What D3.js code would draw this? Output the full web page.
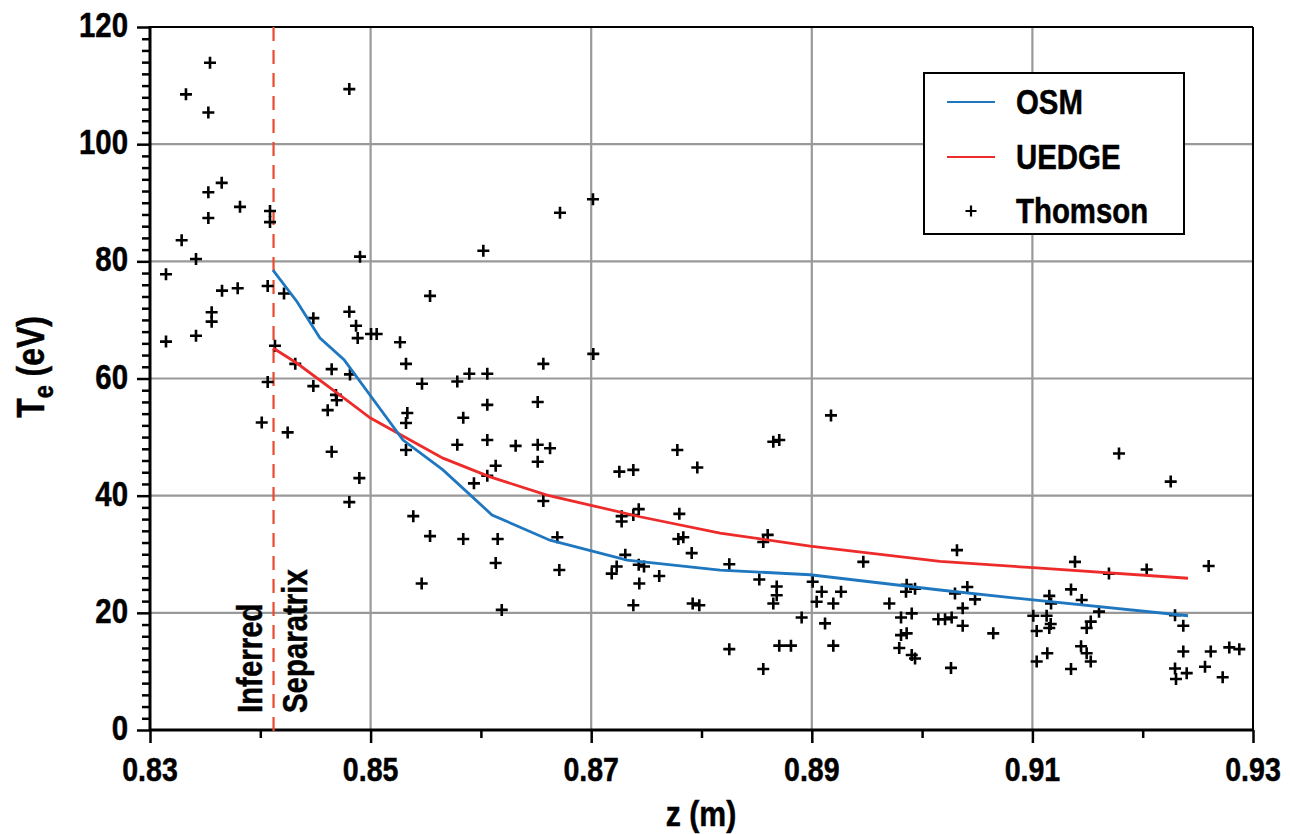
<!DOCTYPE html>
<html>
<head>
<meta charset="utf-8">
<script src="https://cdn.jsdelivr.net/npm/d3@7"></script>
<style>
  html, body { margin: 0; padding: 0; background: #fff; }
  svg text { font-family: "Liberation Sans", Arial, Helvetica, sans-serif; font-weight: bold; fill: #000; stroke: #000; stroke-width: 0.5px; }
</style>
</head>
<body>
<svg id="chart" width="1290" height="834"></svg>
<script>
// ---------------- data ----------------
const xMajorTicks = [0.83, 0.85, 0.87, 0.89, 0.91, 0.93];
const xMinorTicks = [0.84, 0.86, 0.88, 0.90, 0.92];
const yMajorTicks = [0, 20, 40, 60, 80, 100, 120];
const xTickLabels = ["0.83", "0.85", "0.87", "0.89", "0.91", "0.93"];
const yTickLabels = ["0", "20", "40", "60", "80", "100", "120"];
const separatrixZ = 0.8412;

const osmZ = [0.84115, 0.84333, 0.84541, 0.84759, 0.85294, 0.85656, 0.86101, 0.86626, 0.87325, 0.88168, 0.88984, 0.90162, 0.91006, 0.92411];
const osmT = [78.5, 73.1, 66.9, 63.2, 49.5, 44.4, 36.7, 32.4, 29.0, 27.3, 26.5, 23.9, 22.2, 19.5];

const uedgeZ = [0.84115, 0.84333, 0.84783, 0.84995, 0.85656, 0.86083, 0.86599, 0.86989, 0.87442, 0.88168, 0.88984, 0.90162, 0.91006, 0.92411];
const uedgeT = [65.2, 62.6, 56.3, 53.3, 46.4, 43.2, 40.1, 38.4, 36.4, 33.6, 31.4, 28.8, 27.7, 25.9];

const thomsonZ = [
  0.83544, 0.83326, 0.83529, 0.84807, 0.83650, 0.83529, 0.83816, 0.84088, 0.84088, 0.83529,
  0.83287, 0.83417, 0.84904, 0.83145, 0.83653, 0.83795, 0.84067, 0.84215, 0.83559, 0.83559,
  0.84481, 0.84807, 0.84868, 0.84883, 0.85004, 0.85055, 0.83145, 0.83417, 0.84133, 0.84317,
  0.84647, 0.84813, 0.84067, 0.84481, 0.84686, 0.84693, 0.84611, 0.84013, 0.84248, 0.84647,
  0.84898, 0.84807, 0.86022, 0.85539, 0.85267, 0.85321, 0.85466, 0.85786, 0.85895, 0.86058,
  0.86566, 0.87019, 0.86058, 0.86515, 0.85333, 0.85321, 0.85840, 0.86058, 0.85786, 0.86315,
  0.86515, 0.86627, 0.85321, 0.86515, 0.86134, 0.86058, 0.85937, 0.87255, 0.87382, 0.86566,
  0.85387, 0.87431, 0.87276, 0.87276, 0.87382, 0.85539, 0.85840, 0.86152, 0.86693, 0.86134,
  0.86711, 0.87309, 0.87231, 0.87186, 0.87431, 0.87479, 0.87436, 0.85463, 0.87382, 0.86189,
  0.89174, 0.88651, 0.88705, 0.87781, 0.87962, 0.87799, 0.87790, 0.87835, 0.87911, 0.88600,
  0.88560, 0.88252, 0.89467, 0.87617, 0.88524, 0.88682, 0.88682, 0.88651, 0.89008, 0.89090,
  0.89265, 0.89044, 0.89195, 0.87920, 0.87980, 0.89703, 0.89860, 0.89854, 0.89936, 0.88908,
  0.89120, 0.89809, 0.89906, 0.90147, 0.88705, 0.88811, 0.89195, 0.88252, 0.89809, 0.89860,
  0.89793, 0.89906, 0.89936, 0.88560, 0.91785, 0.92254, 0.90316, 0.91386, 0.91694, 0.92036,
  0.92598, 0.90298, 0.90410, 0.90480, 0.90368, 0.90208, 0.90268, 0.90368, 0.90645, 0.90262,
  0.91153, 0.91169, 0.91350, 0.91447, 0.91604, 0.91008, 0.91129, 0.91166, 0.91153, 0.91039,
  0.91529, 0.91492, 0.91441, 0.91492, 0.91529, 0.91135, 0.91039, 0.91350, 0.92293, 0.92368,
  0.92368, 0.92617, 0.92785, 0.92876, 0.92293, 0.92302, 0.92399, 0.92565, 0.92725, 0.86717,
  0.87016
];
const thomsonT = [
  113.9, 108.5, 105.4, 109.4, 93.4, 91.8, 89.3, 88.6, 86.7, 87.4,
  83.6, 80.4, 80.8, 77.8, 75.0, 75.4, 75.8, 74.5, 71.3, 69.7,
  70.3, 71.4, 69.0, 66.9, 67.6, 67.6, 66.3, 67.3, 65.6, 62.5,
  61.6, 60.7, 59.4, 58.7, 57.2, 56.3, 54.6, 52.5, 50.8, 47.5,
  43.0, 38.9, 81.8, 74.1, 66.2, 62.5, 59.1, 59.5, 60.8, 60.8,
  62.5, 64.2, 55.5, 56.0, 54.1, 52.4, 53.3, 49.5, 48.7, 48.5,
  48.7, 48.1, 47.8, 45.8, 45.1, 43.4, 42.1, 44.1, 44.4, 39.1,
  36.5, 37.7, 36.5, 35.6, 36.7, 33.1, 32.6, 32.6, 32.9, 28.5,
  27.3, 29.9, 27.9, 26.7, 28.2, 27.9, 25.0, 25.0, 21.3, 20.5,
  53.7, 49.2, 49.5, 47.8, 44.8, 36.9, 32.6, 32.9, 30.2, 33.3,
  32.1, 28.3, 28.7, 26.3, 25.7, 24.5, 23.0, 21.6, 25.3, 23.6,
  23.6, 21.9, 21.6, 21.6, 21.3, 21.6, 24.8, 23.6, 24.1, 19.2,
  18.2, 19.2, 19.9, 18.9, 14.4, 14.4, 14.4, 13.8, 16.2, 16.5,
  14.0, 12.8, 12.2, 10.4, 47.2, 42.4, 30.7, 28.7, 26.7, 27.4,
  28.0, 23.3, 24.4, 22.3, 20.8, 18.9, 19.2, 17.8, 16.5, 10.6,
  22.9, 21.6, 24.0, 22.2, 20.2, 19.5, 19.5, 18.1, 17.4, 16.9,
  18.5, 17.4, 14.3, 13.1, 11.7, 13.1, 11.7, 10.4, 19.6, 17.8,
  13.4, 13.4, 14.1, 13.8, 10.5, 8.7, 9.7, 10.8, 9.0, 88.3,
  90.6
];

const legendLabels = ["OSM", "UEDGE", "Thomson"];
const colors = { osm: "#1f77c0", uedge: "#ee2b2b", sep: "#ea4a2e" };

// ---------------- layout ----------------
const SX = 0.84; // horizontal squeeze to imitate a condensed bold face
const svg = d3.select("#chart");
const L = 150, R = 1253, T = 27, B = 730;
const x = d3.scaleLinear().domain([0.83, 0.93]).range([L, R]);
const y = d3.scaleLinear().domain([0, 120]).range([B, T]);

function ctext(parent, px, py, str, size, anchor, rot) {
  const t = parent.append("text")
    .attr("transform", `translate(${px},${py})${rot ? ` rotate(${rot})` : ""} scale(${SX},1)`)
    .attr("font-size", size).attr("text-anchor", anchor || "start");
  if (str !== null) t.text(str);
  return t;
}

// grid
const grid = svg.append("g");
grid.selectAll(".vg").data(xMajorTicks.slice(1, -1)).join("line")
  .attr("x1", d => x(d)).attr("x2", d => x(d)).attr("y1", T).attr("y2", B)
  .attr("stroke", "#999").attr("stroke-width", 2.2);
grid.selectAll(".hg").data(yMajorTicks.slice(1, -1)).join("line")
  .attr("x1", L).attr("x2", R).attr("y1", d => y(d)).attr("y2", d => y(d))
  .attr("stroke", "#999").attr("stroke-width", 2.2);

// frame top/right
svg.append("line").attr("x1", L).attr("x2", R).attr("y1", T).attr("y2", T).attr("stroke", "#000").attr("stroke-width", 2);
svg.append("line").attr("x1", R).attr("x2", R).attr("y1", T).attr("y2", B).attr("stroke", "#000").attr("stroke-width", 2);

// axes (ticks via d3 axes; labels drawn condensed)
const xAxisMajor = d3.axisBottom(x).tickValues(xMajorTicks).tickFormat("").tickSize(13);
const xAxisMinor = d3.axisBottom(x).tickValues(xMinorTicks).tickFormat("").tickSize(8);
const yMinorTicks = d3.range(0, 121, 2).filter(v => v % 20 !== 0);
const yAxisMajor = d3.axisLeft(y).tickValues(yMajorTicks).tickFormat("").tickSize(13);
const yAxisMinor = d3.axisLeft(y).tickValues(yMinorTicks).tickFormat("").tickSize(8);

function styleAxis(g) {
  g.select(".domain").remove();
  g.selectAll(".tick line").attr("stroke", "#000").attr("stroke-width", 2.5);
  g.selectAll(".tick text").remove();
}
svg.append("g").attr("transform", `translate(0,${B})`).call(xAxisMinor).call(styleAxis);
svg.append("g").attr("transform", `translate(0,${B})`).call(xAxisMajor).call(styleAxis);
svg.append("g").attr("transform", `translate(${L},0)`).call(yAxisMinor).call(styleAxis);
svg.append("g").attr("transform", `translate(${L},0)`).call(yAxisMajor).call(styleAxis);

const labels = svg.append("g");
xMajorTicks.forEach((v, i) => ctext(labels, x(v), 781, xTickLabels[i], 34, "middle"));
yMajorTicks.forEach((v, i) => ctext(labels, 128, y(v) + 10, yTickLabels[i], 35, "end"));

// axis lines
svg.append("line").attr("x1", L).attr("x2", R).attr("y1", B).attr("y2", B).attr("stroke", "#000").attr("stroke-width", 3);
svg.append("line").attr("x1", L).attr("x2", L).attr("y1", T - 1).attr("y2", B + 1).attr("stroke", "#000").attr("stroke-width", 3);

// separatrix
svg.append("line").attr("x1", x(separatrixZ)).attr("x2", x(separatrixZ)).attr("y1", T).attr("y2", B + 6)
  .attr("stroke", colors.sep).attr("stroke-width", 2.2).attr("stroke-dasharray", "14,9");
ctext(svg, x(separatrixZ) - 12, 713, "Inferred", 35, "start", -90);
ctext(svg, x(separatrixZ) + 33, 713, "Separatrix", 35, "start", -90);

// thomson points
const thomson = thomsonZ.map((z, i) => ({ z, t: thomsonT[i] }));
const plus = (cx, cy, s) => `M${cx - s},${cy}H${cx + s}M${cx},${cy - s}V${cy + s}`;
svg.append("g").selectAll("path").data(thomson).join("path")
  .attr("d", d => plus(x(d.z), y(d.t), 6))
  .attr("stroke", "#000").attr("stroke-width", 2.6).attr("fill", "none");

// model lines
const line = d3.line().x(d => x(d[0])).y(d => y(d[1]));
svg.append("path").datum(uedgeZ.map((z, i) => [z, uedgeT[i]])).attr("d", line)
  .attr("fill", "none").attr("stroke", colors.uedge).attr("stroke-width", 2.8);
svg.append("path").datum(osmZ.map((z, i) => [z, osmT[i]])).attr("d", line)
  .attr("fill", "none").attr("stroke", colors.osm).attr("stroke-width", 2.8);

// axis titles
ctext(svg, 701, 826, "z (m)", 36, "middle");
const yt = ctext(svg, 44, 367, null, 38, "middle", -90);
yt.append("tspan").text("T");
yt.append("tspan").attr("font-size", 28).attr("dy", 9).text("e");
yt.append("tspan").attr("dy", -9).text(" (eV)");

// legend
const lg = svg.append("g");
lg.append("rect").attr("x", 924).attr("y", 73).attr("width", 260).attr("height", 161)
  .attr("fill", "#fff").attr("stroke", "#000").attr("stroke-width", 2);
const legendY = [102, 157, 211];
lg.append("line").attr("x1", 947).attr("x2", 995).attr("y1", legendY[0]).attr("y2", legendY[0]).attr("stroke", colors.osm).attr("stroke-width", 2.2);
lg.append("line").attr("x1", 947).attr("x2", 995).attr("y1", legendY[1]).attr("y2", legendY[1]).attr("stroke", colors.uedge).attr("stroke-width", 2.2);
lg.append("path").attr("d", plus(971, legendY[2], 5.5)).attr("stroke", "#000").attr("stroke-width", 2.2);
legendLabels.forEach((d, i) => ctext(lg, 1016, legendY[i] + 12, d, 35, "start"));
</script>
</body>
</html>
